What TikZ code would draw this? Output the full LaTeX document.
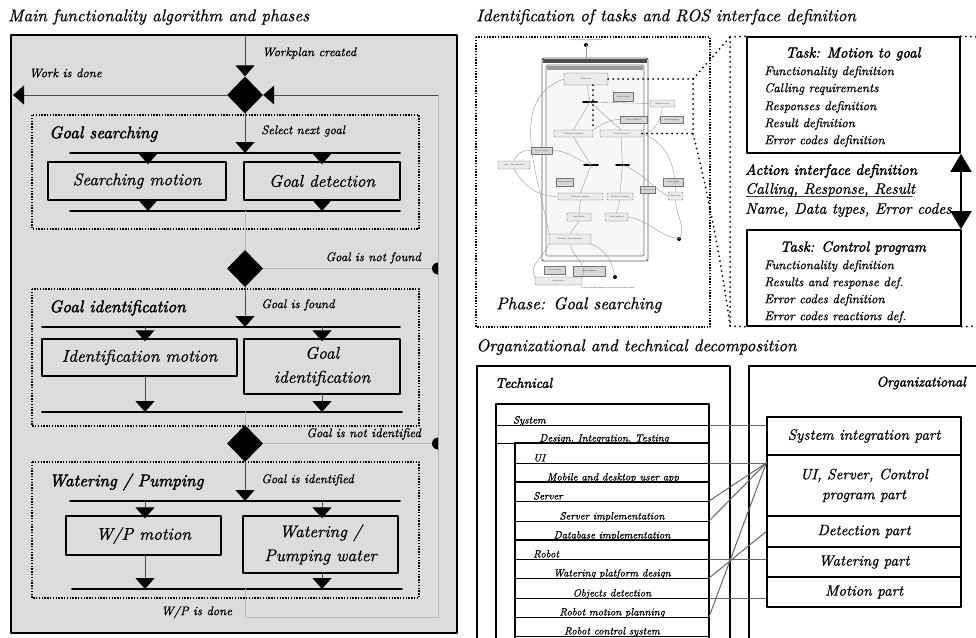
\documentclass[tikz,border=0pt]{standalone}
\usepackage{fontspec}
\setmainfont{lmroman10-regular}[Extension=.otf,ItalicFont=lmroman10-italic,
    BoldFont=lmroman10-bold,BoldItalicFont=lmroman10-bolditalic]
\setsansfont{lmsans10-regular}[Extension=.otf]
\usetikzlibrary{arrows.meta,shapes.geometric,positioning}
\definecolor{panelgray}{RGB}{220,220,220}
\newcommand\heavyfont{\addfontfeature{FakeBold=2.2}}
\newcommand\softbold{\addfontfeature{FakeBold=0.7}}

\begin{document}
\begin{tikzpicture}[x=1pt,y=-1pt,line cap=round,line join=round,
    ttl/.style={inner sep=0pt,anchor=west,font=\itshape\fontsize{17}{20}\selectfont\softbold},
    phasettl/.style={inner sep=0pt,anchor=west,font=\itshape\fontsize{17}{20}\selectfont\heavyfont},
    lbl/.style={inner sep=0pt,font=\itshape\fontsize{12.5}{14}\selectfont\softbold},
    actbox/.style={draw,line width=1.4pt,align=center,inner sep=1pt,font=\itshape\fontsize{17}{24}\selectfont\softbold},
    decision/.style={diamond,fill=black,minimum width=36pt,minimum height=37pt,inner sep=0pt},
    flow/.style={line width=1pt,draw=black!70,-{Triangle[length=11pt,width=19pt,black]}},
    flowin/.style={flow,shorten >=-3pt},
    back/.style={line width=0.7pt,draw=black!28},
    bar/.style={line width=1.8pt},
    phase/.style={line width=1.6pt,dash pattern=on 1.4pt off 1.4pt,line cap=butt},
    zoomdot/.style={line width=2pt,dash pattern=on 0pt off 5pt},
    tbox/.style={draw=black!55,fill=black!8,rounded corners=1pt,line width=0.35pt,inner sep=0.3pt,
        text=black!75,font=\sffamily\fontsize{2.2}{2.4}\selectfont},
    tnote/.style={tbox,fill=black!16,rounded corners=0pt},
    tline/.style={draw=black!40,line width=0.4pt},
    tbar/.style={line width=1.5pt},
    taskbox/.style={draw,line width=1.6pt,inner sep=0pt},
    tasktl/.style={inner sep=0pt,font=\itshape\fontsize{14.7}{17}\selectfont\heavyfont},
    taskln/.style={inner sep=0pt,anchor=west,font=\itshape\fontsize{12.7}{15}\selectfont\softbold},
    iface/.style={inner sep=0pt,anchor=west,font=\itshape\fontsize{15.3}{18}\selectfont\softbold},
    dbl/.style={line width=1.6pt,{Triangle[length=18pt,width=21pt]}-{Triangle[length=18pt,width=21pt]}},
    orgbox/.style={draw,line width=1.5pt,align=center,inner sep=1pt,minimum width=194pt,
        font=\itshape\fontsize{15}{20}\selectfont\softbold},
    rowtxt/.style={inner sep=0pt,anchor=base,font=\itshape\fontsize{10.6}{12}\selectfont\softbold},
    rowhd/.style={rowtxt,anchor=base west},
    link/.style={line width=1pt,draw=black!60}]
    \path[use as bounding box] (0,0) rectangle (976,637);

    % titles
    \node[ttl] (ttlmain) at (8,17) {Main functionality algorithm and phases};
    \node[ttl] (ttlros) at (476,17) {Identification of tasks and ROS interface definition};
    \node[ttl] (ttlorg) at (476,347) {Organizational and technical decomposition};

    % ---------- main algorithm ----------
    \filldraw[fill=panelgray,line width=1.6pt] (11,35) rectangle (457,633);
    \coordinate (cl) at (148,0);
    \coordinate (cm) at (145,0);
    \coordinate (cr) at (322,0);

    \coordinate (start) at (245,36);
    \node[decision] (d1) at (245,95) {};
    \coordinate (done) at (13,95);
    \coordinate (loop) at (438,95);
    \coordinate (lb) at (245,617);
    \coordinate (lc) at (438,617);
    \draw[back] (lc) -- (loop);
    \draw[flow] (start) -- (d1.north);
    \draw[flow] (d1.west) -- (done);
    \draw[flow] (loop) -- (d1.east);
    \node[lbl,anchor=west] (lwp) at (262,53) {Workplan created};
    \node[lbl,anchor=west] (lwd) at (29,73) {Work is done};

    % goal searching
    \draw[phase] (32,115) rectangle (419,229);
    \node[phasettl] (ph1) at (49,134) {Goal searching};
    \node[lbl,anchor=west] (lsel) at (261,131) {Select next goal};
    \coordinate (f1) at (245,153);
    \coordinate (j1) at (245,211);
    \draw[bar] (70,153) -- (400,153);
    \draw[bar] (70,211) -- (400,211);
    \draw[flow] (d1.south) -- (f1);
    \node[actbox,minimum width=178pt,minimum height=38pt] (sm) at (137,181) {Searching motion};
    \node[actbox,minimum width=156pt,minimum height=38pt] (gd) at (322,181) {Goal detection};
    \draw[flowin] (f1 -| cl) -- (sm.north -| cl);
    \draw[flowin] (f1 -| cr) -- (gd.north -| cr);
    \draw[flow] (sm.south -| cl) -- (j1 -| cl);
    \draw[flow] (gd.south -| cr) -- (j1 -| cr);

    \node[decision] (d2) at (245,268.5) {};
    \coordinate (nf) at (438,268.5);
    \draw[back] (j1) -- (d2.north);
    \draw[back] (d2.east) -- (nf);
    \fill (438,262.5) arc[start angle=90,end angle=270,radius=6pt] -- cycle;
    \node[lbl,anchor=east] (lnf) at (421,258) {Goal is not found};

    % goal identification
    \draw[phase] (32,289) rectangle (419,426);
    \node[phasettl] (ph2) at (49,308) {Goal identification};
    \node[lbl,anchor=west] (lfound) at (261,305) {Goal is found};
    \coordinate (f2) at (245,327);
    \coordinate (j2) at (245,412);
    \draw[bar] (42,327) -- (400,327);
    \draw[bar] (42,412) -- (402,412);
    \draw[flow] (d2.south) -- (f2);
    \node[actbox,minimum width=195pt,minimum height=37pt] (im) at (139.5,357.5) {Identification motion};
    \node[actbox,minimum width=156pt,minimum height=55pt] (gi) at (322,366.5) {Goal\\identification};
    \draw[flowin] (f2 -| cm) -- (im.north -| cm);
    \draw[flowin] (f2 -| cr) -- (gi.north -| cr);
    \draw[flow] (im.south -| cm) -- (j2 -| cm);
    \draw[flow] (gi.south -| cr) -- (j2 -| cr);

    \node[decision] (d3) at (245,443.5) {};
    \coordinate (ni) at (438,443.5);
    \draw[back] (j2) -- (d3.north);
    \draw[back] (d3.east) -- (ni);
    \fill (438,437.5) arc[start angle=90,end angle=270,radius=6pt] -- cycle;
    \node[lbl,anchor=east] (lni) at (421,434) {Goal is not identified};

    % watering / pumping
    \draw[phase] (32,462) rectangle (419,598);
    \node[phasettl] (ph3) at (49,482) {Watering / Pumping};
    \node[lbl,anchor=west] (lid) at (261,480) {Goal is identified};
    \coordinate (f3) at (245,501);
    \coordinate (j3) at (245,589);
    \draw[bar] (70,501) -- (400,501);
    \draw[bar] (72,589) -- (402,589);
    \draw[flow] (d3.south) -- (f3);
    \node[actbox,minimum width=155pt,minimum height=39pt] (wp) at (143.5,535.5) {W/P motion};
    \node[actbox,minimum width=155pt,minimum height=57pt] (wpw) at (320.5,544.5) {Watering /\\Pumping water};
    \draw[flowin] (f3 -| cm) -- (wp.north -| cm);
    \draw[flowin] (f3 -| cr) -- (wpw.north -| cr);
    \draw[flow] (wp.south -| cm) -- (j3 -| cm);
    \draw[flow] (wpw.south -| cr) -- (j3 -| cr);
    \draw[back] (j3) -- (lb) -- (lc);
    \node[lbl,anchor=west] (lwpd) at (161,612) {W/P is done};

    % ---------- tasks and ROS interfaces ----------
    \draw[phase] (476,37) rectangle (710,327);

    % process diagram thumbnail
    \fill (586,45) circle[radius=2pt];
    \coordinate (tdot1) at (586,45);
    \node[inner sep=0pt,text=black!75,font=\sffamily\fontsize{2.2}{2.4}\selectfont] (tcap) at (586,40) {Control program - process diagram};
    \filldraw[draw=black!65,fill=white,line width=0.9pt,rounded corners=2pt] (542,58) rectangle (648,261);
    \fill[black!70] (543,59) rectangle (647,63);
    \filldraw[draw=black!55,fill=black!3,line width=0.7pt,rounded corners=1.5pt] (546,65) rectangle (644,256);
    \fill[black!40] (547,66) rectangle (643,70);
    \node[tbox,minimum width=44pt,minimum height=12pt] (tinit) at (586,79) {Motion init};
    \node[tnote,minimum width=20pt,minimum height=9pt] (tcall1) at (623,96.5) {Action calling};
    \coordinate (tfork1) at (590,102);
    \draw[tbar] (583,102) -- (597,102);
    \node[tbox,minimum width=25pt,minimum height=7pt] (tgoal) at (662.5,103.5) {Motion to goal};
    \node[tnote,minimum width=27pt,minimum height=7pt] (tfb) at (633.5,119.5) {Action feedback};
    \node[tnote,minimum width=23pt,minimum height=7pt] (tresp1) at (671.5,119.5) {Action response};
    \node[tbox,minimum width=39pt,minimum height=7pt] (twfb) at (573.5,133.5) {Waiting for feedback};
    \node[tbox,minimum width=42pt,minimum height=7pt] (twg) at (621,133.5) {Waiting for goal};
    \node[tnote,minimum width=21pt,minimum height=7pt] (tcall2) at (541.5,150.5) {Action calling};
    \node[tbox,minimum width=32pt,minimum height=8pt] (tstart) at (514,165) {Start / Task detection};
    \coordinate (tfork2) at (591,165);
    \coordinate (tfork3) at (622.5,165);
    \draw[tbar] (584,165) -- (598,165);
    \draw[tbar] (616,165) -- (629,165);
    \node[tnote,minimum width=17pt,minimum height=8pt] (tresp2) at (565,182) {Action response};
    \node[tnote,minimum width=20pt,minimum height=8pt] (tcall3) at (673,182) {Action calling};
    \node[tnote,minimum width=15pt,minimum height=7pt] (tresp3) at (647.5,189.5) {Action response};
    \node[tbox,minimum width=45pt,minimum height=7pt] (twd) at (580.5,196.5) {Waiting for detection};
    \node[tbox,minimum width=26pt,minimum height=7pt] (twt) at (620,196.5) {Waiting for turning};
    \node[tbox,minimum width=15pt,minimum height=8pt] (tturn) at (675.5,196) {Robot turn};
    \node[tbox,minimum width=24pt,minimum height=8pt] (tsm) at (579,217) {Stop Motion};
    \node[tbox,minimum width=23pt,minimum height=8pt] (tsd) at (616.5,217) {Stop Detection};
    \node[tbox,minimum width=42pt,minimum height=10pt] (tdec) at (570,239) {Decision - State detection};
    \fill (679,239) circle[radius=2pt];
    \coordinate (tend1) at (679,239);
    \node[tnote,minimum width=21pt,minimum height=8pt] (tcall4) at (554.5,270) {Action calling};
    \node[tnote,minimum width=32pt,minimum height=10pt] (tresp4) at (589,271) {Action response};
    \node[tbox,minimum width=47pt,minimum height=8pt] (tarm) at (558.5,281) {Arm position};
    \fill (615,277) circle[radius=2pt];
    \coordinate (tend2) at (615,277);
    \draw[tline] (tdot1) -- (586,58);
    \draw[tline] (tinit) -- (tfork1);
    \draw[tline] (tfork1) -- (twfb.north);
    \draw[tline] (tfork1) -- (twg.north);
    \draw[tline] (tfork1) -- (tgoal.west);
    \draw[tline] (twfb.south) -- (tfork2);
    \draw[tline] (twg.south) -- (tfork3);
    \draw[tline] (tfork2) -- (twd.north);
    \draw[tline] (tfork3) -- (twt.north);
    \draw[tline] (twd.south) -- (tsm.north);
    \draw[tline] (twt.south) -- (tsd.north);
    \draw[tline] (tsm.south) -- (tdec.north);
    \draw[tline] (tsd.east) to[out=-10,in=170] (tend1);
    \draw[tline] (tdec.north west) to[out=100,in=200] (tinit.west);
    \draw[tline] (tstart.north) to[out=70,in=170] (tcall2.west);
    \draw[tline] (tcall2.east) to[out=0,in=160] (tfork2);
    \draw[tline] (tstart.south) to[out=-60,in=180] (twd.west);
    \draw[tline] (twg.east) to[out=-20,in=90] (tturn.north);
    \draw[tline] (tturn.south) to[out=-90,in=60] (tend1);
    \draw[tline] (tfork3) to[out=-20,in=150] (tturn.west);
    \draw[tline] (tdec.south west) to[out=-110,in=120] (tarm.north west);
    \draw[tline] (tdec.south) to[out=-80,in=60] (tarm.north east);
    \draw[tline] (tdec.south east) to[out=-20,in=100] (tend2);
    \draw[tline] (tfb.west) to[out=180,in=30] (twfb.north east);
    \draw[tline] (tgoal.south) to[out=-100,in=0] (twg.east);
    \node[inner sep=0pt,text=black!75,font=\sffamily\fontsize{2.2}{2.4}\selectfont] (tfoot) at (608,288) {Diagram displays sequence of states and communications};
    \node[ttl] (phlbl) at (496,305) {Phase: Goal searching};

    % task boxes
    \node[taskbox,minimum width=213pt,minimum height=116pt] (task1) at (853.5,95) {};
    \node[tasktl] (task1tl) at (853,54) {Task: Motion to goal};
    \node[taskln] (t1a) at (764,72) {Functionality definition};
    \node[taskln] (t1b) at (764,89) {Calling requirements};
    \node[taskln] (t1c) at (764,107) {Responses definition};
    \node[taskln] (t1d) at (764,124) {Result definition};
    \node[taskln] (t1e) at (764,141) {Error codes definition};

    \node[iface,font=\itshape\fontsize{15}{18}\selectfont\heavyfont] (aid) at (745,171) {Action interface definition};
    \node[iface] (acr) at (745,190) {Calling, Response, Result};
    \coordinate (ul1) at (746,196);
    \coordinate (ul2) at (912,196);
    \draw[line width=1pt,black!75] (ul1) -- (ul2);
    \node[iface] (adt) at (745,210) {Name, Data types, Error codes};

    \node[taskbox,minimum width=214pt,minimum height=96pt] (task2) at (854,278) {};
    \node[tasktl] (task2tl) at (853,248) {Task: Control program};
    \node[taskln] (t2a) at (764,266) {Functionality definition};
    \node[taskln] (t2b) at (764,283) {Results and response def.};
    \node[taskln] (t2c) at (764,300) {Error codes definition};
    \node[taskln] (t2d) at (764,317) {Error codes reactions def.};

    \coordinate (ax) at (961,0);
    \draw[dbl] (task1.south -| ax) -- (task2.north -| ax);

    % zoom dots
    \coordinate (zt) at (730,37);
    \coordinate (zb) at (730,326);
    \coordinate (zk) at (693,79);
    \coordinate (zg) at (693,133.5);
    \draw[zoomdot] (zt) -- (zb);
    \draw[zoomdot] (zt) -- (task1.north west);
    \draw[zoomdot] (zb) -- (task2.south west);
    \draw[zoomdot] (task1.north east) -- (976,37);
    \draw[zoomdot] (task2.south east) -- (976,326);
    \draw[zoomdot] (tinit.east) -- (zk) -- (zt);
    \draw[zoomdot] (twg.east) -- (zg);
    \draw[zoomdot] (zk) -- (zg) .. controls (712,210) and (724,280) .. (zb);
    \draw[zoomdot] (tinit.south -| 593,0) -- (twfb.north -| 593,0);

    % ---------- decomposition ----------
    \draw[line width=1.5pt] (477,366) rectangle (730,645);
    \draw[line width=1.5pt] (749,366) rectangle (985,645);
    \node[inner sep=0pt,anchor=west,font=\itshape\fontsize{14}{16}\selectfont\heavyfont] (tech) at (495,383) {Technical};
    \node[inner sep=0pt,anchor=east,font=\itshape\fontsize{14}{16}\selectfont\heavyfont] (orgn) at (966,383) {Organizational};

    \draw[line width=1.5pt] (496,645) -- (496,404) -- (709,404) -- (709,645);
    \draw[line width=1.5pt] (515,645) -- (515,443) -- (709,443);
    \draw[line width=1.5pt] (515,482) -- (709,482);
    \draw[line width=1.5pt] (515,540) -- (709,540);
    \coordinate (rsys) at (709,425);
    \coordinate (rui) at (709,463);
    \coordinate (rsrv) at (709,501);
    \coordinate (rsimp) at (709,521);
    \coordinate (rrob) at (709,559);
    \coordinate (rwpd) at (709,578);
    \coordinate (robj) at (709,598);
    \coordinate (rmot) at (709,617);
    \draw[line width=0.8pt] (496,425) -- (rsys);
    \draw[line width=0.8pt] (496,443) -- (515,443);
    \draw[line width=0.8pt] (515,463) -- (rui);
    \draw[line width=0.8pt] (515,501) -- (rsrv);
    \draw[line width=0.8pt] (515,521) -- (rsimp);
    \draw[line width=0.8pt] (515,559) -- (rrob);
    \draw[line width=0.8pt] (515,578) -- (rwpd);
    \draw[line width=0.8pt] (515,598) -- (robj);
    \draw[line width=0.8pt] (515,617) -- (rmot);
    \draw[line width=0.8pt] (515,636) -- (709,636);

    \node[rowhd] (rsyst) at (513,423.5) {System};
    \node[rowtxt] (rdit) at (604,441.5) {Design, Integration, Testing};
    \node[rowhd] (ruit) at (533,461.5) {UI};
    \node[rowtxt] (rmob) at (613,480.5) {Mobile and desktop user app};
    \node[rowhd] (rsrvt) at (533,499.5) {Server};
    \node[rowtxt] (rsimpt) at (612,519.5) {Server implementation};
    \node[rowtxt] (rdb) at (612,538.5) {Database implementation};
    \node[rowhd] (rrobt) at (533,557.5) {Robot};
    \node[rowtxt] (rwpdt) at (612,576.5) {Watering platform design};
    \node[rowtxt] (robjt) at (612,596.5) {Objects detection};
    \node[rowtxt] (rmott) at (612,615.5) {Robot motion planning};
    \node[rowtxt] (rctl) at (612,634.5) {Robot control system};

    \node[orgbox,minimum height=38pt] (sip) at (864,436) {System integration part};
    \node[orgbox,minimum height=61pt] (usc) at (864,485.5) {UI, Server, Control\\program part};
    \node[orgbox,minimum height=31pt] (det) at (864,531.5) {Detection part};
    \node[orgbox,minimum height=30pt] (wat) at (864,562) {Watering part};
    \node[orgbox,minimum height=30pt] (mot) at (864,592) {Motion part};

    \coordinate (uscin) at (usc.west |- rui);
    \draw[link] (rsys) -- (rsys -| sip.west);
    \draw[link] (rui) -- (uscin);
    \draw[link] (rsrv) -- (uscin);
    \draw[link] (rsimp) -- (uscin);
    \draw[link] (rrob) -- (rrob -| wat.west);
    \draw[link] (rwpd) -- (det.west);
    \draw[link] (robj) -- (robj -| mot.west);
    \draw[link] (rmot) -- (uscin);
\end{tikzpicture}
\end{document}
